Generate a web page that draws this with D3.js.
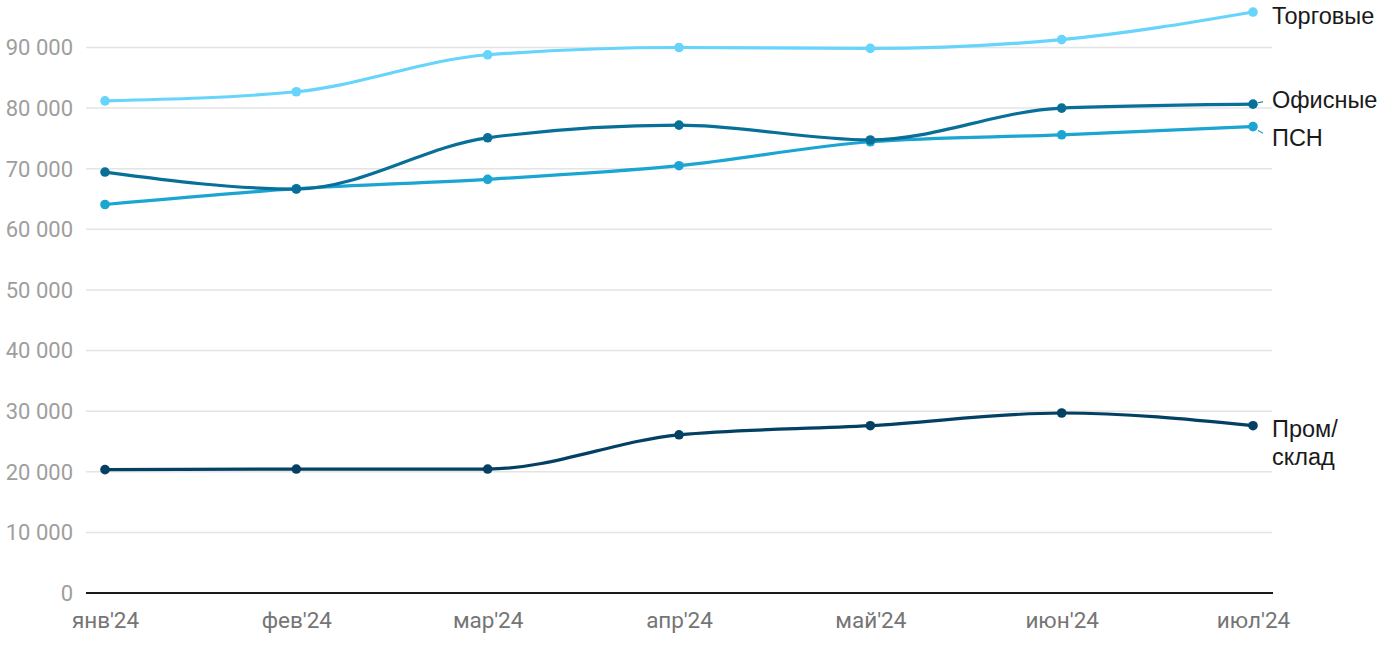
<!DOCTYPE html>
<html><head><meta charset="utf-8">
<script src="https://cdn.jsdelivr.net/npm/d3@7"></script>
<style>html,body{margin:0;padding:0;background:#fff;}svg{display:block;}</style>
</head><body>
<svg id="c" width="1400" height="650"></svg>
<script>
const months = ["янв'24","фев'24","мар'24","апр'24","май'24","июн'24","июл'24"];
const trade   = [81200, 82700, 88800, 90000, 89850, 91300, 95850];
const office  = [69450, 66650, 75100, 77200, 74750, 80000, 80650];
const psn     = [64100, 66700, 68250, 70500, 74450, 75600, 76950];
const indust  = [20350, 20450, 20450, 26100, 27600, 29700, 27600];
const yTicks  = [0,10000,20000,30000,40000,50000,60000,70000,80000,90000];

const series = [
  {name:["Торговые"], values:trade, color:"#66d4fb", dy:12, lead:false},
  {name:["ПСН"], values:psn, color:"#1ba5d2", dy:19, lead:true},
  {name:["Офисные"], values:office, color:"#086f98", dy:4, lead:true},
  {name:["Пром/","склад"], values:indust, color:"#043f64", dy:11, lead:false}
];

const svg = d3.select("#c");
const x = d3.scalePoint().domain(months).range([105,1253]);
const y = d3.scaleLinear().domain([0,90000]).range([593,47.5]);
const loc = d3.formatLocale({decimal:",", thousands:"\u00a0", grouping:[3], currency:["",""]});
const fmt = loc.format(",d");

// gridlines
svg.append("g").selectAll("line").data(yTicks.filter(d=>d>0)).join("line")
  .attr("x1",86).attr("x2",1272).attr("y1",d=>y(d)).attr("y2",d=>y(d))
  .attr("stroke","#e4e4e4").attr("stroke-width",1.5);

// y labels
svg.append("g").selectAll("text").data(yTicks).join("text")
  .attr("x",73).attr("y",d=>y(d)).attr("dy","0.36em")
  .attr("text-anchor","end").attr("font-family","Roboto").attr("font-size",22)
  .attr("fill","#9e9e9e").text(d=>fmt(d));

// x axis
const xa = svg.append("g").attr("transform",`translate(0,${y(0)})`)
  .call(d3.axisBottom(x).tickSize(0).tickPadding(0));
xa.select(".domain").remove();
xa.append("line").attr("x1",86).attr("x2",1273).attr("stroke","#1a1a1a").attr("stroke-width",2);
xa.selectAll(".tick text").attr("font-family","Roboto").attr("font-size",22.5)
  .attr("fill","#757575").attr("dy",0).attr("y",35);

const line = d3.line().x((d,i)=>x(months[i])).y(d=>y(d)).curve(d3.curveMonotoneX);

series.forEach(s=>{
  svg.append("path").attr("d",line(s.values)).attr("fill","none")
    .attr("stroke",s.color).attr("stroke-width",3.2);
  svg.append("g").selectAll("circle").data(s.values).join("circle")
    .attr("cx",(d,i)=>x(months[i])).attr("cy",d=>y(d)).attr("r",4.8).attr("fill",s.color);
  const last = s.values[s.values.length-1];
  const px = x(months[months.length-1]), py = y(last);
  if(s.lead){
    const ty = py + s.dy - 8;
    svg.append("line").attr("x1",px+5).attr("y1",py+(ty-py)*0.35)
      .attr("x2",px+10).attr("y2",py+(ty-py)*0.6)
      .attr("stroke",s.color).attr("stroke-width",1.2);
  }
  const t = svg.append("text").attr("x",1272).attr("y",py+s.dy)
    .attr("font-family","Liberation Sans, Arial").attr("font-size",23.5).attr("fill","#1a1a1a");
  s.name.forEach((n,i)=>t.append("tspan").attr("x",1272).attr("dy",i?28:0).text(n));
});
</script>
</body></html>
